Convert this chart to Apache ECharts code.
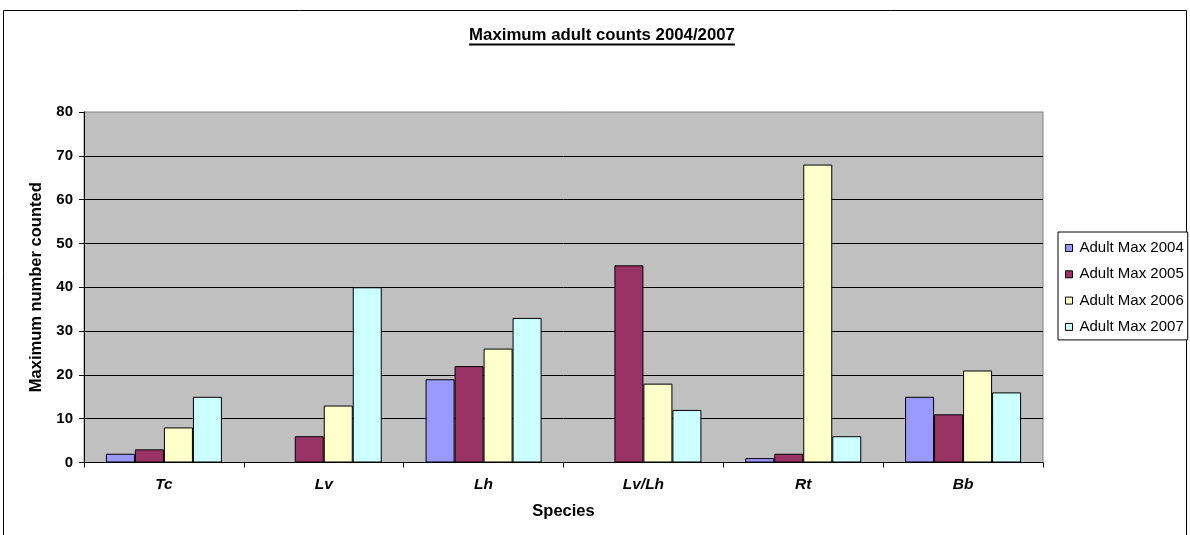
<!DOCTYPE html>
<html>
<head>
<meta charset="utf-8">
<script src="https://cdn.jsdelivr.net/npm/echarts@6/dist/echarts.min.js"></script>
<style>
  html, body { margin: 0; padding: 0; background: #ffffff; }
  #chart { width: 1190px; height: 535px; }
</style>
</head>
<body>
<div id="chart"></div>
<script>
// Species observed and the maximum adult counts per year
const categories = ['Tc', 'Lv', 'Lh', 'Lv/Lh', 'Rt', 'Bb'];
const seriesNames = ['Adult Max 2004', 'Adult Max 2005', 'Adult Max 2006', 'Adult Max 2007'];
const max2004 = [2, 0, 19, 0, 1, 15];
const max2005 = [3, 6, 22, 45, 2, 11];
const max2006 = [8, 13, 26, 18, 68, 21];
const max2007 = [15, 40, 33, 12, 6, 16];
const yTicks = [0, 10, 20, 30, 40, 50, 60, 70, 80];

const colors = ['#9999FF', '#993366', '#FFFFCC', '#CCFFFF'];
const values = [max2004, max2005, max2006, max2007];
const FONT = '"Liberation Sans", Arial, sans-serif';
const TITLE = 'Maximum adult counts 2004/2007';

const chart = echarts.init(document.getElementById('chart'), null, { renderer: 'canvas' });

// measure the title so the underline spans it exactly
const titleFont = 'bold 16.8px ' + FONT;
const titleW = echarts.format.getTextRect
  ? echarts.format.getTextRect(TITLE, titleFont).width
  : 270;
const titleCx = 602;

chart.setOption({
  animation: false,
  backgroundColor: '#ffffff',
  textStyle: { fontFamily: FONT, color: '#000' },
  graphic: [
    {
      type: 'rect',
      shape: { x: 3.5, y: 10.5, width: 1183, height: 540 },
      style: { fill: 'none', stroke: '#000', lineWidth: 1 },
      silent: true
    },
    {
      type: 'text',
      x: titleCx, y: 35.5,
      style: {
        text: TITLE,
        font: titleFont,
        fill: '#000',
        align: 'center',
        verticalAlign: 'middle'
      }
    },
    {
      type: 'line',
      shape: { x1: titleCx - titleW / 2, y1: 44.5, x2: titleCx + titleW / 2, y2: 44.5 },
      style: { stroke: '#000', lineWidth: 2 }
    }
  ],
  legend: {
    orient: 'vertical',
    left: 1058,
    top: 232,
    data: seriesNames,
    icon: 'rect',
    itemWidth: 7,
    itemHeight: 7,
    itemGap: 11.3,
    padding: [8.5, 4, 5.5, 7],
    borderColor: '#000',
    borderWidth: 1,
    backgroundColor: '#fff',
    textStyle: { fontFamily: FONT, fontSize: 15, color: '#000', padding: [0, 0, 0, 2] },
    itemStyle: { borderColor: '#000', borderWidth: 1 }
  },
  grid: {
    left: 84,
    right: 147,
    top: 112,
    bottom: 72.5,
    show: true,
    backgroundColor: '#C0C0C0',
    borderColor: '#808080',
    borderWidth: 1
  },
  xAxis: {
    type: 'category',
    data: categories,
    name: 'Species',
    nameLocation: 'middle',
    nameGap: 40,
    nameTextStyle: { fontFamily: FONT, fontWeight: 'bold', fontSize: 16.5, color: '#000' },
    axisLine: { lineStyle: { color: '#000', width: 1 } },
    axisTick: { show: true, length: 5, lineStyle: { color: '#000' } },
    axisLabel: {
      fontFamily: FONT, fontWeight: 'bold', fontStyle: 'italic',
      fontSize: 15.5, color: '#000', margin: 14
    }
  },
  yAxis: {
    type: 'value',
    min: yTicks[0],
    max: yTicks[yTicks.length - 1],
    interval: 10,
    name: 'Maximum number counted',
    nameLocation: 'middle',
    nameGap: 38,
    nameRotate: 90,
    nameTextStyle: { fontFamily: FONT, fontWeight: 'bold', fontSize: 16.5, color: '#000' },
    axisLine: { show: true, lineStyle: { color: '#000', width: 1 } },
    axisTick: { show: true, length: 5, lineStyle: { color: '#000' } },
    axisLabel: { fontFamily: FONT, fontWeight: 'bold', fontSize: 15, color: '#000', margin: 11 },
    splitLine: { show: true, showMaxLine: false, lineStyle: { color: '#000', width: 1 } }
  },
  series: seriesNames.map((name, i) => ({
    name: name,
    type: 'bar',
    data: values[i],
    barWidth: 29,
    barGap: '0%',
    itemStyle: { color: colors[i], borderColor: '#000', borderWidth: 1 }
  }))
});
</script>
</body>
</html>
